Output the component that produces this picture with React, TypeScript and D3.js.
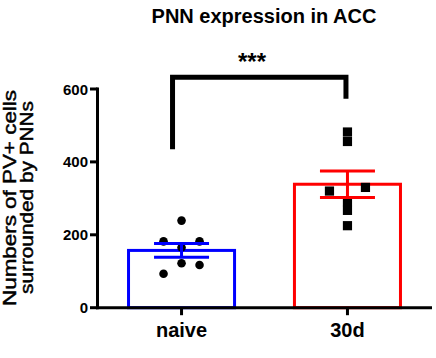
import React from "react";
import * as d3 from "d3";

const title = "PNN expression in ACC";
const categories = ["naive", "30d"];
const naiveValues = [239, 182, 182, 165, 122, 117, 93];
const naiveOffsets = [0, -1, 1, 0, 0, 1, -1];
const d30Values = [482, 456, 320, 330, 291, 267, 225];
const d30Offsets = [0, 0, -1, 1, 0, 0, 0];
const yTicks = [0, 200, 400, 600];
const yLabelLines = ["Numbers of PV+ cells", "surrounded by PNNs"];
const sigLabel = "***";
const bracketTop = 632;
const bracketLeftEnd = 435;
const bracketRightEnd = 573;

const W = 436;
const H = 358;
const FONT = "'Liberation Sans', Arial, Helvetica, sans-serif";

export default function App() {
  const x = d3
    .scaleBand<string>()
    .domain(categories)
    .range([97, 432])
    .paddingInner(0.361)
    .paddingOuter(0.19);
  const y = d3.scaleLinear().domain([0, 600]).range([307.7, 89]);
  const bw = x.bandwidth();
  const cx = (c: string) => (x(c) as number) + bw / 2;

  const groups = [
    { cat: "naive", values: naiveValues, offsets: naiveOffsets, color: "#0000ff", shape: "circle" },
    { cat: "30d", values: d30Values, offsets: d30Offsets, color: "#ff0000", shape: "square" },
  ];

  const jitter = 18;
  const capHalf = 27.5;

  const bx1 = cx("naive") - 9;
  const bx2 = cx("30d") - 1.5;

  return (
    <svg
      width={W}
      height={H}
      viewBox={`0 0 ${W} ${H}`}
      style={{ position: "absolute", left: 0, top: 0, background: "#fff" }}
      fontFamily={FONT}
    >
      <rect x={0} y={0} width={W} height={H} fill="#fff" />
      <text x={264} y={23} textAnchor="middle" fontSize={20} fontWeight="bold" fill="#000">
        {title}
      </text>

      {/* Y label */}
      <g transform={`translate(16, ${198}) rotate(-90)`}>
        <text x={0} y={0} textAnchor="middle" fontSize={18} fill="#000" stroke="#000" strokeWidth={0.45} textLength={216} lengthAdjust="spacingAndGlyphs">
          {yLabelLines[0]}
        </text>
      </g>
      <g transform={`translate(33, ${197.5}) rotate(-90)`}>
        <text x={0} y={0} textAnchor="middle" fontSize={18} fill="#000" stroke="#000" strokeWidth={0.45} textLength={193} lengthAdjust="spacingAndGlyphs">
          {yLabelLines[1]}
        </text>
      </g>

      {/* bars */}
      {groups.map((g) => {
        const m = d3.mean(g.values) as number;
        return (
          <rect
            key={g.cat}
            x={x(g.cat) as number}
            y={y(m)}
            width={bw}
            height={y(0) - y(m)}
            fill="#fff"
            stroke={g.color}
            strokeWidth={3}
          />
        );
      })}

      {/* points */}
      {groups.map((g) =>
        g.values.map((v, i) => {
          const px = cx(g.cat) + g.offsets[i] * jitter;
          const py = y(v);
          return g.shape === "circle" ? (
            <circle key={g.cat + i} cx={px} cy={py} r={4.3} fill="#000" />
          ) : (
            <rect key={g.cat + i} x={px - 4.6} y={py - 4.6} width={9.2} height={9.2} fill="#000" />
          );
        })
      )}

      {/* error bars */}
      {groups.map((g) => {
        const m = d3.mean(g.values) as number;
        const sem = (d3.deviation(g.values) as number) / Math.sqrt(g.values.length);
        const c = cx(g.cat);
        return (
          <g key={g.cat + "err"} stroke={g.color} strokeWidth={3}>
            <line x1={c} x2={c} y1={y(m + sem)} y2={y(m - sem)} />
            <line x1={c - capHalf} x2={c + capHalf} y1={y(m + sem)} y2={y(m + sem)} />
            <line x1={c - capHalf} x2={c + capHalf} y1={y(m - sem)} y2={y(m - sem)} />
          </g>
        );
      })}

      {/* y axis */}
      <line x1={97.5} x2={97.5} y1={y(600) - 1.5} y2={y(0) + 1.5} stroke="#000" strokeWidth={3} />
      {yTicks.map((t) => (
        <g key={t}>
          <line x1={90} x2={97.5} y1={y(t)} y2={y(t)} stroke="#000" strokeWidth={3} />
          <text x={88} y={y(t) + 5.5} textAnchor="end" fontSize={15} fontWeight="bold" fill="#000">
            {t}
          </text>
        </g>
      ))}

      {/* x axis */}
      <line x1={96} x2={432} y1={y(0)} y2={y(0)} stroke="#000" strokeWidth={3} />
      {categories.map((c) => (
        <g key={c}>
          <line x1={cx(c)} x2={cx(c)} y1={y(0)} y2={y(0) + 7.5} stroke="#000" strokeWidth={3} />
          <text x={cx(c)} y={337} textAnchor="middle" fontSize={20} fontWeight="bold" fill="#000">
            {c}
          </text>
        </g>
      ))}

      {/* significance bracket */}
      <path
        d={`M${bx1},${y(bracketLeftEnd)} L${bx1},${y(bracketTop)} L${bx2},${y(bracketTop)} L${bx2},${y(bracketRightEnd)}`}
        fill="none"
        stroke="#000"
        strokeWidth={5}
        strokeLinejoin="miter"
      />
      <text x={252} y={70} textAnchor="middle" fontSize={24} fontWeight="bold" fill="#000">
        {sigLabel}
      </text>
    </svg>
  );
}
